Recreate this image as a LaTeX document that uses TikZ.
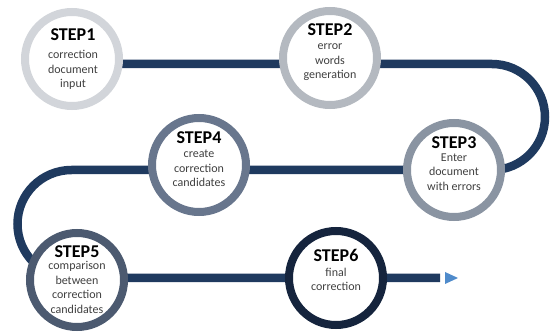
\documentclass[tikz,border=0pt]{standalone}
\usepackage{fontspec}
\setmainfont{Carlito}
\begin{document}
\begin{tikzpicture}[x=1pt,y=1pt,
  ring/.style={circle,fill=white,line width=8pt,minimum size=94pt,inner sep=0pt},
  track/.style={draw=trackc,line width=8.5pt},
  steptitle/.style={font=\fontsize{18}{18}\selectfont\bfseries,inner sep=0pt,text=black},
  stepbody/.style={font=\fontsize{12}{14.5}\selectfont,align=center,inner sep=0pt,text=bodyc}]
\definecolor{trackc}{HTML}{1F3A5F}
\definecolor{arrowc}{HTML}{4F8BCB}
\definecolor{bodyc}{HTML}{404040}
\definecolor{ringA}{HTML}{D2D5DA}
\definecolor{ringB}{HTML}{B4B9C0}
\definecolor{ringC}{HTML}{8A94A2}
\definecolor{ringD}{HTML}{68768D}
\definecolor{ringE}{HTML}{4C5A70}
\definecolor{ringF}{HTML}{15243D}
\useasboundingbox (0,0) rectangle (550,335);

% winding track behind the step circles
\coordinate (turnR) at (492,271);
\coordinate (turnL) at (71.5,165);
\coordinate (tip) at (440,57);
\coordinate (start) at (72,271);
\draw[track] (start) -- (turnR) arc[start angle=90,end angle=-90,radius=53pt]
  -- (turnL) arc[start angle=90,end angle=270,radius=54pt] -- (tip);
\fill[arrowc] ([xshift=5pt,yshift=6pt]tip) -- ([xshift=5pt,yshift=-6pt]tip) -- ([xshift=18pt]tip) -- cycle;

% step circles
\node[ring,draw=ringA] (s1) at (72,276) {};
\node[ring,draw=ringB] (s2) at (330,277) {};
\node[ring,draw=ringC] (s3) at (454,165) {};
\node[ring,draw=ringD] (s4) at (199,170) {};
\node[ring,draw=ringE] (s5) at (77,55) {};
\node[ring,draw=ringF] (s6) at (336,57) {};

% titles
\node[steptitle] (t1) at (73,300) {STEP1};
\node[steptitle] (t2) at (330,305) {STEP2};
\node[steptitle] (t3) at (454,192.5) {STEP3};
\node[steptitle] (t4) at (199,197.5) {STEP4};
\node[steptitle] (t5) at (77,83.5) {STEP5};
\node[steptitle] (t6) at (336,80) {STEP6};

% descriptions
\node[stepbody] (b1) at (73,265) {correction\\document\\input};
\node[stepbody] (b2) at (330,272.5) {error\\words\\generation};
\node[stepbody] (b3) at (454,163) {Enter\\document\\with errors};
\node[stepbody] (b4) at (199,166.5) {create\\correction\\candidates};
\node[stepbody] (b5) at (77,47.5) {comparison\\between\\correction\\candidates};
\node[stepbody] (b6) at (336,55.5) {final\\correction};
\end{tikzpicture}
\end{document}
